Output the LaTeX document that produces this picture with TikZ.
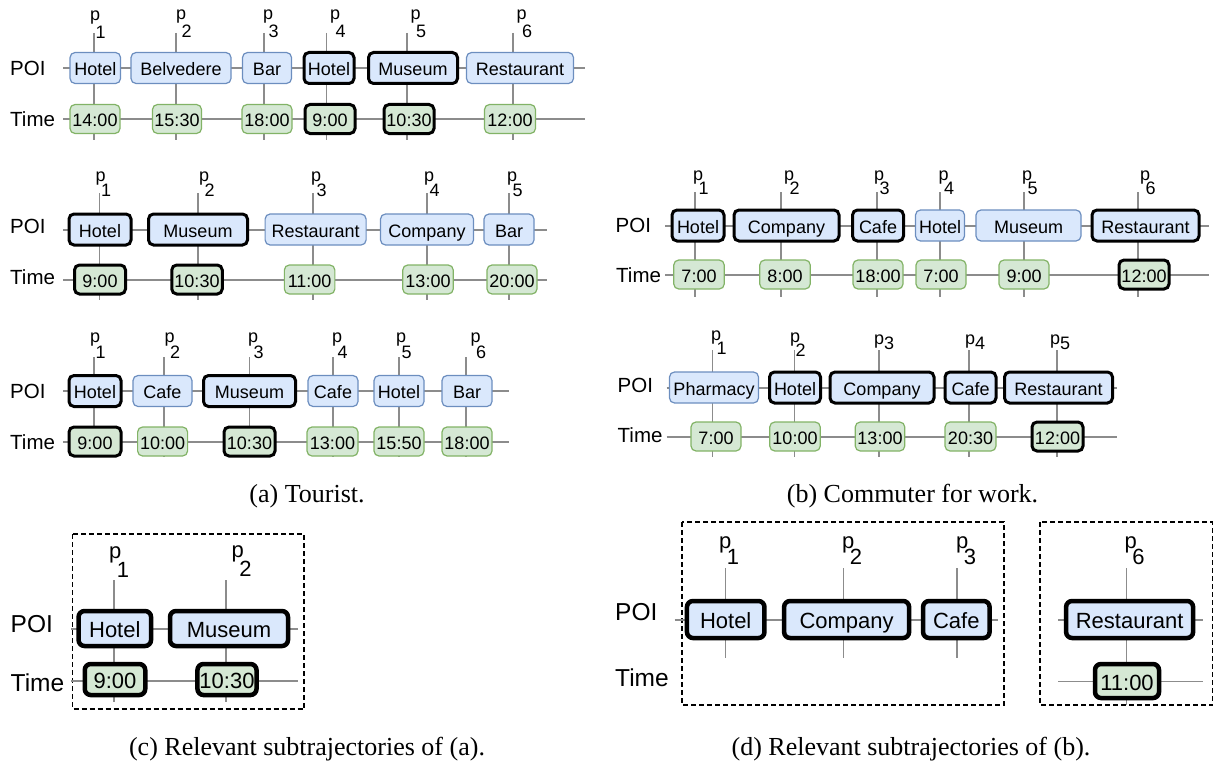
\documentclass[tikz,border=0pt]{standalone}
\usepackage{fontspec}
\setmainfont{Liberation Serif}
\newfontfamily\lsans{Liberation Sans}

\definecolor{poifill}{HTML}{DAE8FC}
\definecolor{poiline}{HTML}{6C8EBF}
\definecolor{timfill}{HTML}{D5E8D4}
\definecolor{timline}{HTML}{82B366}
\definecolor{gridgray}{HTML}{8C8C8C}

% p with a dropped index, as the drawing tool sets it
\newcommand{\pl}[2][18]{p\kern-4.5pt\raisebox{-#1pt}{#2}}
\newcommand{\ps}[1]{p\raisebox{-5pt}{#1}}

\tikzset{
  axis/.style={draw=gridgray, line width=1.2pt},
  box/.style={rounded corners=5pt, line width=1.2pt, inner xsep=2pt, inner ysep=0pt,
    text height=15pt, text depth=0pt, font=\lsans\fontsize{18}{20}\selectfont},
  poi/.style={box, draw=poiline, fill=poifill, minimum height=31pt},
  tim/.style={box, draw=timline, fill=timfill, minimum height=29pt},
  hit/.style={draw=black, line width=3pt},
  big/.style={font=\lsans\fontsize{22}{24}\selectfont, rounded corners=6pt, text height=18.5pt},
  bighit/.style={draw=black, line width=4.5pt},
  rowlab/.style={anchor=west, inner sep=0pt, font=\lsans\fontsize{20.5}{22}\selectfont},
  biglab/.style={rowlab, font=\lsans\fontsize{24.5}{26}\selectfont},
  plab/.style={anchor=south west, inner sep=0pt, font=\lsans\fontsize{18}{20}\selectfont},
  bigplab/.style={plab, font=\lsans\fontsize{22}{24}\selectfont},
  frame/.style={draw=black, line width=1.5pt, dash pattern=on 5pt off 3pt},
  captext/.style={anchor=base, inner sep=0pt, font=\fontsize{26}{28}\selectfont}
}

\begin{document}
\begin{tikzpicture}[x=1pt, y=-1pt]
  \useasboundingbox (0,0) rectangle (1214,765);

  % (a) tourist, first trajectory
  \draw[axis] (63,68) -- (585,68);
  \draw[axis] (63,119) -- (585,119);
  \foreach \x in {94,176,264,326.5,407,513}
    \draw[axis] (\x,33) -- (\x,140);
  \node[rowlab] (a1poi) at (10,68) {POI};
  \node[rowlab] (a1time) at (10,119) {Time};
  \node[plab] (a1q1) at (90,39) {\pl{1}};
  \node[plab] (a1q2) at (176,38) {\pl{2}};
  \node[plab] (a1q3) at (263,38) {\pl{3}};
  \node[plab] (a1q4) at (330,38) {\pl{4}};
  \node[plab] (a1q5) at (410.5,38) {\pl{5}};
  \node[plab] (a1q6) at (516.5,38) {\pl{6}};
  \node[poi, minimum width=50.5] (a1p1) at (95.3,68) {Hotel};
  \node[poi, minimum width=100] (a1p2) at (181,68) {Belvedere};
  \node[poi, minimum width=49] (a1p3) at (267,68) {Bar};
  \node[poi, hit, minimum width=50] (a1p4) at (329,68) {Hotel};
  \node[poi, hit, minimum width=89] (a1p5) at (413,68) {Museum};
  \node[poi, minimum width=107] (a1p6) at (520,68) {Restaurant};
  \node[tim, minimum width=50] (a1t1) at (95,119) {14:00};
  \node[tim, minimum width=48.5] (a1t2) at (177,119) {15:30};
  \node[tim, minimum width=50] (a1t3) at (267,119) {18:00};
  \node[tim, hit, minimum width=50] (a1t4) at (330,119) {9:00};
  \node[tim, hit, minimum width=50] (a1t5) at (409,119) {10:30};
  \node[tim, minimum width=51] (a1t6) at (510,119) {12:00};

  % (a) second trajectory
  \draw[axis] (63,230) -- (547,230);
  \draw[axis] (63,280) -- (547,280);
  \foreach \x in {99.5,198,313,427,509}
    \draw[axis] (\x,193) -- (\x,300);
  \node[rowlab] (a2poi) at (10,226) {POI};
  \node[rowlab] (a2time) at (10,277) {Time};
  \node[plab] (a2q1) at (95.5,197) {\pl[15]{1}};
  \node[plab] (a2q2) at (199,197) {\pl[15]{2}};
  \node[plab] (a2q3) at (311,197) {\pl[15]{3}};
  \node[plab] (a2q4) at (424,197) {\pl[15]{4}};
  \node[plab] (a2q5) at (507,197) {\pl[15]{5}};
  \node[poi, hit, minimum width=62] (a2p1) at (100,229.5) {Hotel};
  \node[poi, hit, minimum width=99] (a2p2) at (198,229.5) {Museum};
  \node[poi, minimum width=101] (a2p3) at (315.6,229.5) {Restaurant};
  \node[poi, minimum width=93] (a2p4) at (427,229.5) {Company};
  \node[poi, minimum width=50] (a2p5) at (509,229.5) {Bar};
  \node[tim, hit, minimum width=51] (a2t1) at (100,279.5) {9:00};
  \node[tim, hit, minimum width=50.5] (a2t2) at (197,279.5) {10:30};
  \node[tim, minimum width=50.5] (a2t3) at (309.6,279.5) {11:00};
  \node[tim, minimum width=50.5] (a2t4) at (428,279.5) {13:00};
  \node[tim, minimum width=50] (a2t5) at (512,279.5) {20:00};

  % (a) third trajectory
  \draw[axis] (63,391) -- (509,391);
  \draw[axis] (63,442) -- (509,442);
  \foreach \x in {94,164,249.5,333,399,466}
    \draw[axis] (\x,357) -- (\x,457);
  \node[rowlab] (a3poi) at (10,391) {POI};
  \node[rowlab] (a3time) at (10,442) {Time};
  \node[plab] (a3q1) at (90,359) {\pl[16]{1}};
  \node[plab] (a3q2) at (164.5,359) {\pl[16]{2}};
  \node[plab] (a3q3) at (248,359) {\pl[16]{3}};
  \node[plab] (a3q4) at (332,359) {\pl[16]{4}};
  \node[plab] (a3q5) at (396,359) {\pl[16]{5}};
  \node[plab] (a3q6) at (470.5,359) {\pl[16]{6}};
  \node[poi, hit, minimum width=52] (a3p1) at (95,391) {Hotel};
  \node[poi, minimum width=59] (a3p2) at (162.5,391) {Cafe};
  \node[poi, hit, minimum width=92] (a3p3) at (249.5,391) {Museum};
  \node[poi, minimum width=50] (a3p4) at (333,391) {Cafe};
  \node[poi, minimum width=50] (a3p5) at (399,391) {Hotel};
  \node[poi, minimum width=50] (a3p6) at (467,391) {Bar};
  \node[tim, hit, minimum width=52] (a3t1) at (95,441.5) {9:00};
  \node[tim, minimum width=50] (a3t2) at (162.6,441.5) {10:00};
  \node[tim, hit, minimum width=51] (a3t3) at (249.5,441.5) {10:30};
  \node[tim, minimum width=51] (a3t4) at (332.5,441.5) {13:00};
  \node[tim, minimum width=50] (a3t5) at (399,441.5) {15:50};
  \node[tim, minimum width=50] (a3t6) at (467,441.5) {18:00};

  % (b) commuter, first trajectory
  \draw[axis] (665,226) -- (1209,226);
  \draw[axis] (665,275) -- (1209,275);
  \foreach \x in {695,781,877,940,1024,1138}
    \draw[axis] (\x,192) -- (\x,297);
  \node[rowlab] (b1poi) at (615.5,225) {POI};
  \node[rowlab] (b1time) at (616,275) {Time};
  \node[plab] (b1q1) at (693,195) {\pl[14]{1}};
  \node[plab] (b1q2) at (784,195) {\pl[14]{2}};
  \node[plab] (b1q3) at (874,195) {\pl[14]{3}};
  \node[plab] (b1q4) at (938.5,195) {\pl[14]{4}};
  \node[plab] (b1q5) at (1022,195) {\pl[14]{5}};
  \node[plab] (b1q6) at (1140,195) {\pl[14]{6}};
  \node[poi, hit, minimum width=52] (b1p1) at (698,225.5) {Hotel};
  \node[poi, hit, minimum width=105] (b1p2) at (786.5,225.5) {Company};
  \node[poi, hit, minimum width=51] (b1p3) at (878,225.5) {Cafe};
  \node[poi, minimum width=49] (b1p4) at (940,225.5) {Hotel};
  \node[poi, minimum width=105] (b1p5) at (1028.5,225.5) {Museum};
  \node[poi, hit, minimum width=107] (b1p6) at (1145.5,225.5) {Restaurant};
  \node[tim, minimum width=50.5] (b1t1) at (699,274.5) {7:00};
  \node[tim, minimum width=50.5] (b1t2) at (785,274.5) {8:00};
  \node[tim, minimum width=50] (b1t3) at (878,274.5) {18:00};
  \node[tim, minimum width=50] (b1t4) at (941,274.5) {7:00};
  \node[tim, minimum width=50] (b1t5) at (1024,274.5) {9:00};
  \node[tim, hit, minimum width=50] (b1t6) at (1144,274.5) {12:00};

  % (b) second trajectory
  \draw[axis] (666.5,388) -- (1117,388);
  \draw[axis] (666.5,437) -- (1117,437);
  \foreach \x in {712.5,794.5,879,969,1057}
    \draw[axis] (\x,350) -- (\x,457);
  \node[rowlab] (b2poi) at (617.5,385) {POI};
  \node[rowlab] (b2time) at (617.5,435) {Time};
  \node[plab] (b2q1) at (711,355) {\pl[14]{1}};
  \node[plab] (b2q2) at (790,357) {\pl[14]{2}};
  \node[plab] (b2q3) at (874,350) {\ps{3}};
  \node[plab] (b2q4) at (965,350) {\ps{4}};
  \node[plab] (b2q5) at (1050,350) {\ps{5}};
  \node[poi, minimum width=89] (b2p1) at (714,387.5) {Pharmacy};
  \node[poi, hit, minimum width=51] (b2p2) at (795,387.5) {Hotel};
  \node[poi, hit, minimum width=104] (b2p3) at (882,387.5) {Company};
  \node[poi, hit, minimum width=51] (b2p4) at (970.5,387.5) {Cafe};
  \node[poi, hit, minimum width=108] (b2p5) at (1058.5,387.5) {Restaurant};
  \node[tim, minimum width=50] (b2t1) at (716,436.5) {7:00};
  \node[tim, minimum width=50.5] (b2t2) at (795,436.5) {10:00};
  \node[tim, minimum width=49.5] (b2t3) at (880,436.5) {13:00};
  \node[tim, minimum width=51] (b2t4) at (970.5,436.5) {20:30};
  \node[tim, hit, minimum width=51] (b2t5) at (1057.5,436.5) {12:00};

  \node[captext] (capa) at (307,502) {(a) Tourist.};
  \node[captext] (capb) at (912.5,502) {(b) Commuter for work.};

  % (c) relevant subtrajectories of (a)
  \draw[frame] (72.5,534) rectangle (304,709);
  \draw[axis] (71,629) -- (297.5,629);
  \draw[axis] (71,681) -- (297.5,681);
  \foreach \x in {114,226}
    \draw[axis] (\x,580) -- (\x,702);
  \node[biglab] (cpoi) at (10.5,624) {POI};
  \node[biglab] (ctime) at (10.5,683) {Time};
  \node[bigplab] (cq1) at (109,578) {\pl[19]{1}};
  \node[bigplab] (cq2) at (231.5,577) {\pl[19]{2}};
  \node[poi, big, bighit, minimum width=72.5, minimum height=35] (cp1) at (114.8,628.5) {Hotel};
  \node[poi, big, bighit, minimum width=118, minimum height=35] (cp2) at (229,628.5) {Museum};
  \node[tim, big, bighit, minimum width=60.5, minimum height=31] (ct1) at (115,679.5) {9:00};
  \node[tim, big, bighit, minimum width=58.5, minimum height=31] (ct2) at (227,679.5) {10:30};

  % (d) relevant subtrajectories of (b)
  \draw[frame] (682,522) rectangle (1004,705);
  \draw[frame] (1040,522) rectangle (1212.5,705);
  \draw[axis] (674.5,620) -- (997.5,620);
  \draw[axis] (1058,620) -- (1203,620);
  \draw[axis] (1058,681.5) -- (1203,681.5);
  \foreach \x in {725.5,843.5,957}
    \draw[axis] (\x,568) -- (\x,658);
  \draw[axis] (1126.5,568) -- (1126.5,705);
  \node[biglab] (dpoi) at (615,612) {POI};
  \node[biglab] (dtime) at (615,678) {Time};
  \node[bigplab] (dq1) at (719,565) {\pl[16]{1}};
  \node[bigplab] (dq2) at (842,565) {\pl[16]{2}};
  \node[bigplab] (dq3) at (956,565) {\pl[16]{3}};
  \node[bigplab] (dq6) at (1124.5,565) {\pl[16]{6}};
  \node[poi, big, bighit, minimum width=77.5, minimum height=37] (dp1) at (725.7,619.5) {Hotel};
  \node[poi, big, bighit, minimum width=125, minimum height=37] (dp2) at (846.6,619.5) {Company};
  \node[poi, big, bighit, minimum width=66.5, minimum height=37] (dp3) at (956.3,619.5) {Cafe};
  \node[poi, big, bighit, minimum width=127, minimum height=37] (dp6) at (1129.6,619.5) {Restaurant};
  \node[tim, big, bighit, minimum width=64, minimum height=34] (dt6) at (1127,681) {11:00};

  \node[captext] (capc) at (307,755) {(c) Relevant subtrajectories of (a).};
  \node[captext] (capd) at (911,755) {(d) Relevant subtrajectories of (b).};
\end{tikzpicture}
\end{document}
